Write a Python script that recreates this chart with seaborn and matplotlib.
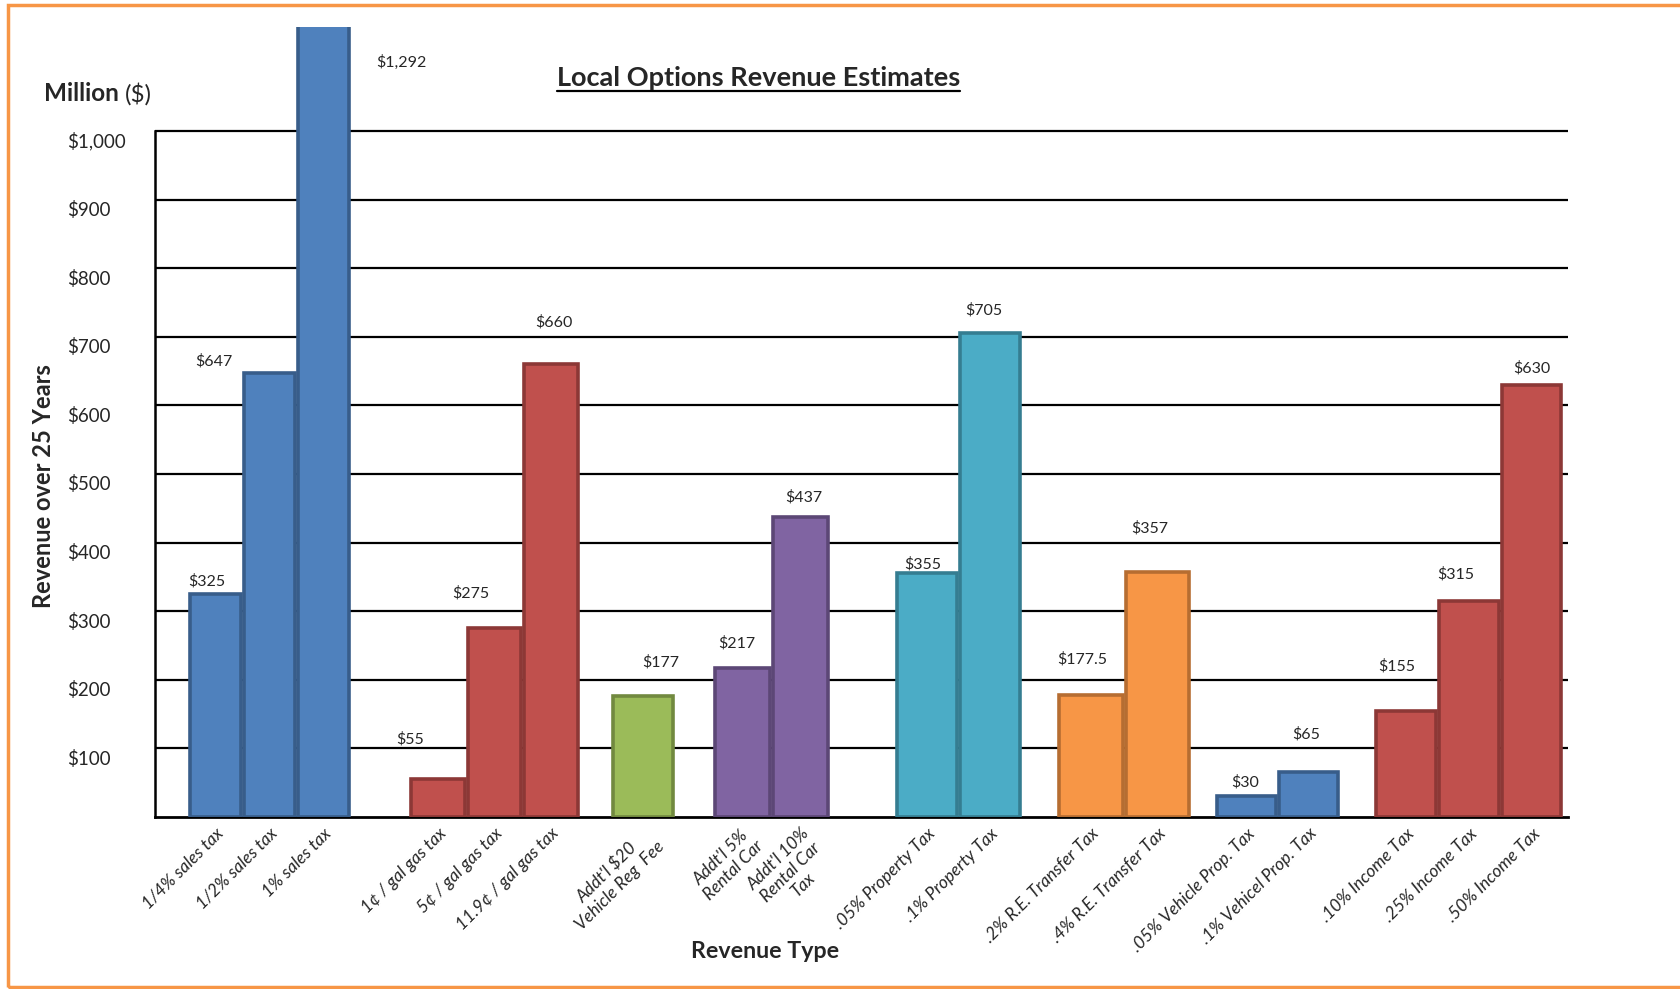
import numpy as np
import pandas as pd
import matplotlib
matplotlib.use("Agg")
import matplotlib.pyplot as plt
import matplotlib.transforms as mtransforms
from matplotlib.lines import Line2D
from matplotlib.patches import Rectangle
import seaborn as sns

# ---------------- data ----------------
categories = [
    "1/4% sales tax", "1/2% sales tax", "1% sales tax",
    "1¢ / gal gas tax", "5¢ / gal gas tax", "11.9¢ / gal gas tax",
    "Addt'l $20\nVehicle Reg  Fee",
    "Addt'l 5%\nRental Car", "Addt'l 10%\nRental Car\nTax",
    ".05% Property Tax", ".1% Property Tax",
    ".2% R.E. Transfer Tax", ".4% R.E. Transfer Tax",
    ".05% Vehicle Prop. Tax", ".1% Vehicel Prop. Tax",
    ".10% Income Tax", ".25% Income Tax", ".50% Income Tax",
]
values = [325, 647, 1292, 55, 275, 660, 177, 217, 437, 355, 705,
          177.5, 357, 30, 65, 155, 315, 630]
value_labels = ["$325", "$647", "$1,292", "$55", "$275", "$660", "$177",
                "$217", "$437", "$355", "$705", "$177.5", "$357", "$30",
                "$65", "$155", "$315", "$630"]
groups = [0, 0, 0, 1, 1, 1, 2, 3, 3, 4, 4, 5, 5, 6, 6, 7, 7, 7]
bar_family = ["blue", "blue", "blue", "red", "red", "red", "green",
              "purple", "purple", "teal", "teal", "orange", "orange",
              "blue", "blue", "red", "red", "red"]
y_ticks = [100, 200, 300, 400, 500, 600, 700, 800, 900, 1000]
y_ticklabels = ["$100", "$200", "$300", "$400", "$500", "$600", "$700",
                "$800", "$900", "$1,000"]

# ---------------- style / layout ----------------
fills = {"blue": "#4F81BD", "red": "#C0504D", "green": "#9BBB59",
         "purple": "#8064A2", "teal": "#4BACC6", "orange": "#F79646"}
edges = {"blue": "#385D8A", "red": "#8C3836", "green": "#71893F",
         "purple": "#5C4776", "teal": "#357D91", "orange": "#B66D31"}
# spacing between bars of the same group, and centre distance to previous group
group_step = [0.913, 0.95, 1.08, 0.98, 1.07, 1.12, 1.05, 1.06]
group_gap = [0, 1.935, 1.555, 1.68, 2.13, 1.70, 1.50, 1.645]
# label offsets (pixels) from bar top centre: dx, dy
label_offsets = [(-9, 13), (-56, 12), (78, -36), (-28, 40), (-24, 35),
                 (3, 42), (18, 33), (-6, 25), (3, 20), (-4, 9), (-6, 23),
                 (-9, 36), (-8, 44), (-1, 14), (-2, 38), (-9, 44),
                 (-13, 27), (0, 17)]

sns.set_style("white")
plt.rcParams["font.family"] = ["Lato", "DejaVu Sans"]
plt.rcParams["text.parse_math"] = False

fig = plt.figure(figsize=(16.81, 9.89), dpi=100)
ax = fig.add_axes([0.0925, 0.174, 0.933 - 0.0925, 0.799])

pos = []
cur = 0.0
prev_g = None
for g in groups:
    if prev_g is not None:
        cur += group_gap[g] if g != prev_g else group_step[g]
    pos.append(cur)
    prev_g = g
pos = np.array(pos)
df = pd.DataFrame({"pos": pos, "value": values, "cat": categories})

sns.barplot(data=df, x="pos", y="value", hue="cat", hue_order=categories,
            palette=[fills[f] for f in bar_family], native_scale=True,
            dodge=False, width=0.95, saturation=1, legend=False, ax=ax,
            linewidth=2.6, zorder=3)

bars = sorted(ax.patches, key=lambda p: p.get_x())
for p, fam, g, c in zip(bars, bar_family, groups, pos):
    w = 0.95 * group_step[g]
    p.set_width(w)
    p.set_x(c - w / 2)
    p.set_edgecolor(edges[fam])
    p.set_linewidth(2.6)
    p.set_zorder(3)

ymax = 1152
ax.set_ylim(0, ymax)
ax.set_xlim(pos[0] - 1.01, pos[-1] + 0.62)

ax.set_yticks(y_ticks)
ax.set_yticklabels(y_ticklabels, fontsize=13.5)
ax.yaxis.grid(True, color="black", linewidth=1.6, zorder=0)
ax.xaxis.grid(False)
ax.set_axisbelow(True)
for s in ["top", "right"]:
    ax.spines[s].set_visible(False)
ax.spines["left"].set_bounds(0, 1000)
ax.spines["left"].set_color("black")
ax.spines["left"].set_linewidth(1.8)
ax.spines["bottom"].set_color("black")
ax.spines["bottom"].set_linewidth(2.0)
ax.tick_params(axis="y", length=0, pad=64)
off = mtransforms.ScaledTranslation(0, -9 / 100, fig.dpi_scale_trans)
for lab in ax.get_yticklabels():
    lab.set_horizontalalignment("left")
    lab.set_transform(lab.get_transform() + off)

ax.set_xticks(pos)
ax.set_xticklabels(categories, rotation=45, ha="right",
                   rotation_mode="anchor", style="italic", fontsize=12.5,
                   multialignment="center", linespacing=1.15)
ax.tick_params(axis="x", length=0, pad=6)
ax.set_xlabel("")
ax.set_ylabel("")

for x, v, txt, (dx, dy) in zip(pos, values, value_labels, label_offsets):
    ax.annotate(txt, xy=(x, min(v, ymax)), xytext=(dx, dy),
                textcoords="offset pixels", ha="center", va="center",
                fontsize=11.5, annotation_clip=False, zorder=5)

title = fig.text(0.451, 0.921, "Local Options Revenue Estimates",
                 ha="center", va="center", fontsize=19.5, fontweight="bold")
fig.text(0.026, 0.509, "Revenue over 25 Years", rotation=90, ha="center",
         va="center", fontsize=17, fontweight="bold")
fig.text(0.455, 0.038, "Revenue Type", ha="center", va="center",
         fontsize=16.7, fontweight="bold")
m = fig.text(44 / 1681, 0.905, "Million", ha="left", va="center",
             fontsize=17.5, fontweight="bold")
fig.canvas.draw()
r = fig.canvas.get_renderer()
mb = m.get_window_extent(r)
fig.text((mb.x1 + 6) / 1681, 0.905, "($)", ha="left", va="center",
         fontsize=17.5)

tb = title.get_window_extent(r)
uy = (tb.y0 - 1) / 989
fig.add_artist(Line2D([tb.x0 / 1681, tb.x1 / 1681], [uy, uy],
                      transform=fig.transFigure, color="black", lw=1.6))

fig.add_artist(Rectangle((0.005, 0.002), 1.2, 0.993, transform=fig.transFigure,
                         fill=False, edgecolor="#F79646", linewidth=2.5))

fig.savefig("out.png", dpi=100)
